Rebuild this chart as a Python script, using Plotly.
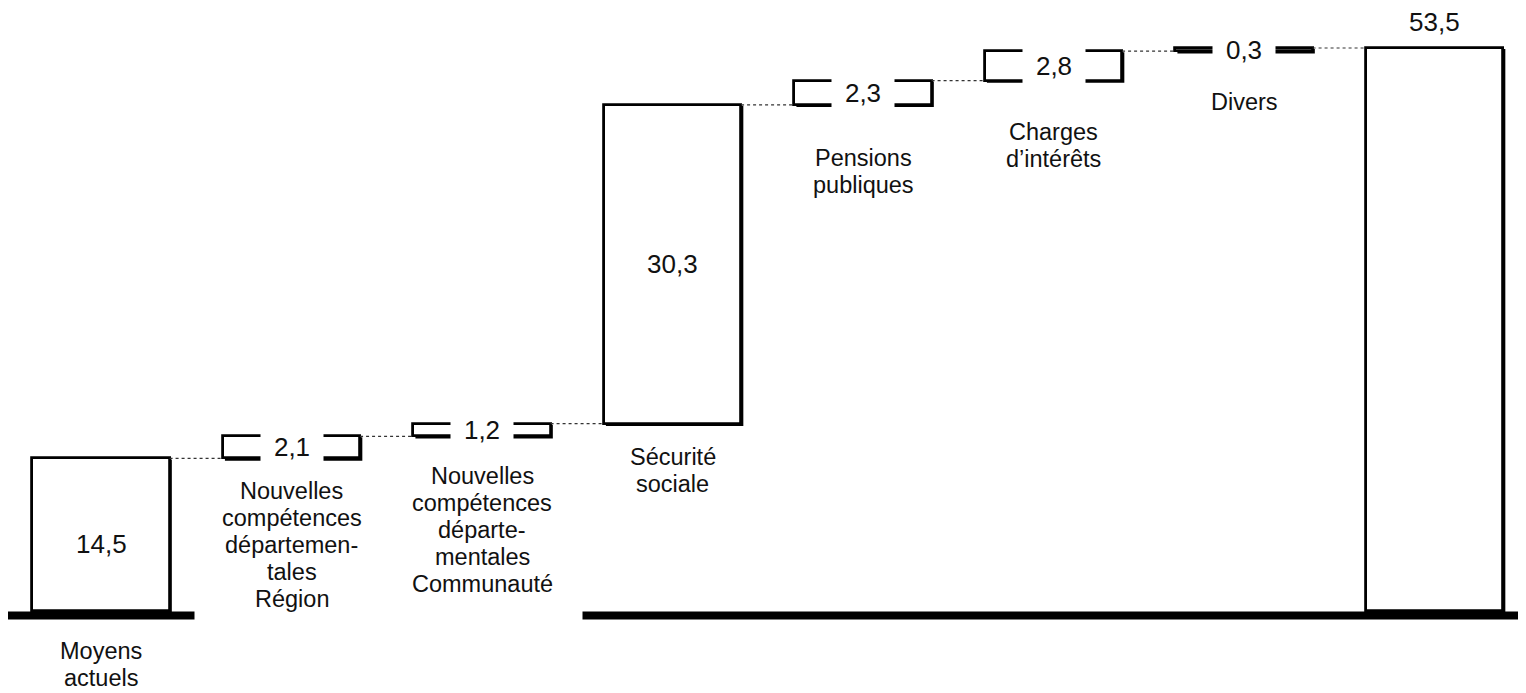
import numpy as np
import plotly.graph_objects as go

# --- data ---------------------------------------------------------------
label_lines = [
    ["Moyens", "actuels"],
    ["Nouvelles", "compétences", "départemen-", "tales", "Région"],
    ["Nouvelles", "compétences", "départe-", "mentales", "Communauté"],
    ["Sécurité", "sociale"],
    ["Pensions", "publiques"],
    ["Charges", "d’intérêts"],
    ["Divers"],
    [],
]
values = [14.5, 2.1, 1.2, 30.3, 2.3, 2.8, 0.3, 53.5]
is_total = [True, False, False, False, False, False, False, True]
value_labels = ["14,5", "2,1", "1,2", "30,3", "2,3", "2,8", "0,3", "53,5"]

# --- geometry / style ---------------------------------------------------
# page body has an 8px margin, so the figure is a little smaller than the window
W, H = 1518, 685
STEP = 190.5                     # px per category
XMIN = -93 / STEP
XMAX = XMIN + W / STEP
YMIN, YMAX = -7.79, 57.30
BAR_W = 0.72
FONT = "Liberation Sans, Arial, sans-serif"
dy = (YMAX - YMIN) / H          # data units per pixel (y)
dx = 1 / STEP

LINE_H = 27                      # label line spacing, px
label_font = 23.5
value_font = 26
# distance (px) from bar bottom to first label line centre
label_gap = [40, 33, 40, 33, 53, 51, 51, 0]
# white boxes behind the two labels that hide the baseline: (width, height)
label_box = [None, (193, 150), (200, 168), None, None, None, None, None]

values = np.array(values)
bases = np.zeros(len(values))
running = 0.0
for i, v in enumerate(values):
    if is_total[i]:
        bases[i] = 0.0
        running = v
    else:
        bases[i] = running
        running += v
tops = bases + values
xs = np.arange(len(values))

fig = go.Figure()

# baseline (thick axis line), below traces
fig.add_shape(type="line", xref="x", yref="y",
              x0=-0.5, x1=XMAX + 0.1, y0=-4.5 * dy, y1=-4.5 * dy,
              line=dict(color="black", width=8), layer="below")

# dotted connectors
for i in range(len(values) - 1):
    fig.add_trace(go.Scatter(
        x=[xs[i] + BAR_W / 2, xs[i + 1] - BAR_W / 2], y=[tops[i], tops[i]],
        mode="lines", line=dict(color="#333", width=1.2, dash="dot"),
        hoverinfo="skip", showlegend=False))

# bars
fig.add_trace(go.Bar(
    x=xs, y=values, base=bases, width=BAR_W,
    marker=dict(color="white", line=dict(color="black", width=2.8)),
    hoverinfo="skip", showlegend=False))

# shadow on right and bottom edges
for i in range(len(values)):
    xr = xs[i] + BAR_W / 2
    xl = xs[i] - BAR_W / 2
    fig.add_trace(go.Scatter(
        x=[xr + dx, xr + dx, xl + 2 * dx],
        y=[tops[i] - dy, bases[i] - dy, bases[i] - dy],
        mode="lines", line=dict(color="black", width=2.5),
        hoverinfo="skip", showlegend=False))

annotations = []
vfont = dict(family=FONT, size=value_font, color="#111")
# value labels
for i in range(len(values)):
    if i == len(values) - 1:
        annotations.append(dict(
            x=xs[i], y=tops[i], text=value_labels[i], showarrow=False,
            yshift=26, font=vfont))
    elif values[i] > 10:
        annotations.append(dict(
            x=xs[i], y=bases[i] + values[i] / 2, text=value_labels[i],
            showarrow=False, yshift=-9 if is_total[i] else 0, font=vfont))
    else:
        annotations.append(dict(
            x=xs[i], y=bases[i] + values[i] / 2, text=value_labels[i],
            showarrow=False, bgcolor="white", width=60, height=40,
            font=vfont))

# category labels
for i, lines in enumerate(label_lines):
    if not lines:
        continue
    if label_box[i]:
        bw, bh = label_box[i]
        annotations.append(dict(
            x=xs[i], y=bases[i], text=" ", showarrow=False,
            yanchor="top", yshift=-(label_gap[i] - 15),
            bgcolor="white", width=bw, height=bh, borderpad=0))
    for k, line in enumerate(lines):
        annotations.append(dict(
            x=xs[i], y=bases[i], text=line, showarrow=False,
            yanchor="middle", yshift=-(label_gap[i] + k * LINE_H),
            font=dict(family=FONT, size=label_font, color="#111")))

fig.update_layout(
    width=W, height=H,
    margin=dict(l=0, r=0, t=0, b=0),
    paper_bgcolor="white", plot_bgcolor="white",
    xaxis=dict(range=[XMIN, XMAX], visible=False, fixedrange=True),
    yaxis=dict(range=[YMIN, YMAX], visible=False, fixedrange=True),
    annotations=annotations,
    showlegend=False,
    bargap=0,
)

fig.write_html("out.html")
